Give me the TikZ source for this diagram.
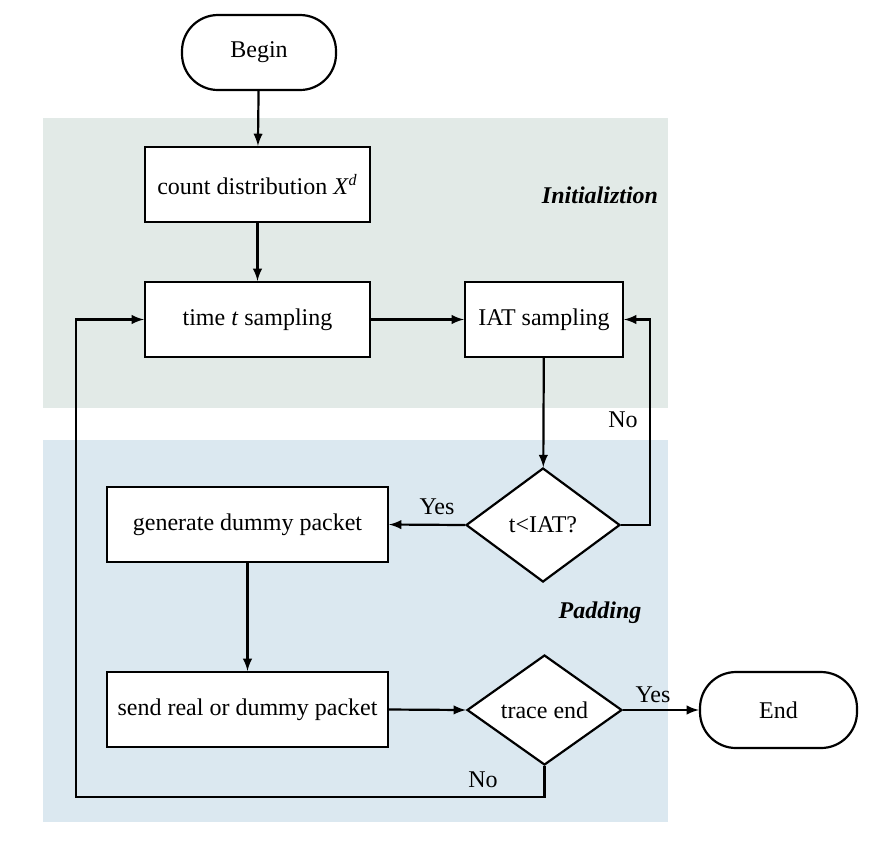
\documentclass[tikz,border=0pt]{standalone}
\usepackage{fontspec}
\setmainfont{Liberation Serif}
\usepackage{tikz}
\usetikzlibrary{arrows,backgrounds,calc,shapes.geometric}
\definecolor{initbg}{RGB}{226,234,231}
\definecolor{padbg}{RGB}{219,232,240}

\begin{document}
\begin{tikzpicture}[x=0.5pt,y=-0.5pt,
  every node/.style={font=\fontsize{12}{14}\selectfont},
  box/.style={draw,fill=white,line width=1.1pt,minimum height=37.5pt,inner sep=2pt},
  term/.style={box,rounded corners=18pt},
  cond/.style={draw,fill=white,line width=1.1pt,diamond,inner sep=0pt},
  arr/.style={-latex,line width=1.1pt},
  lbl/.style={font=\fontsize{12}{14}\selectfont\bfseries\itshape}]
\useasboundingbox (0,0) rectangle (872,843);
\fill[initbg] (43,118) rectangle (668,408);
\fill[padbg] (43,440) rectangle (668,822);
\node[lbl] (initlbl) at (600,195) {Initializtion};
\node[lbl] (padlbl) at (600,613) {Padding};

\node[term,minimum width=77pt] (begin) at (259,52.5) {Begin};
\node[box,minimum width=112.5pt] (count) at (257.5,184.5) {count distribution \textit{X}\textsuperscript{\textit{d}}};
\node[box,minimum width=112.5pt] (time) at (257.5,319.5) {time \textit{t} sampling};
\node[box,minimum width=79pt] (iat) at (544,319.5) {IAT sampling};
\node[cond,minimum width=77pt,minimum height=57pt] (less) at (543,525) {t<IAT?};
\node[box,minimum width=140.5pt] (dummy) at (247.5,524.5) {generate dummy packet};
\node[box,minimum width=140.5pt] (send) at (247.5,709.5) {send real or dummy packet};
\node[cond,minimum width=77.5pt,minimum height=55pt] (tend) at (544.5,710) {trace end};
\node[term,minimum width=78.5pt,minimum height=38pt] (end) at (778.5,710) {End};

\coordinate (loopr) at (650,525);
\coordinate (loopl) at (76,797);

\draw[arr] (begin) -- (count);
\draw[arr] (count) -- (time);
\draw[arr] (time) -- (iat);
\draw[arr] (iat) -- (less);
\draw[arr] (less.east) -- (loopr) |- (iat.east);
\draw[arr] (less.west) -- (dummy.east);
\draw[arr] (dummy) -- (send);
\draw[arr] (send.east) -- (tend.west);
\draw[arr] (tend.east) -- (end.west);
\draw[arr] (tend.south) |- (loopl) |- (time.west);

\node (no1) at (623,420) {No};
\node (yes1) at (437,507) {Yes};
\node (yes2) at (653,695) {Yes};
\node (no2) at (483,780) {No};
\end{tikzpicture}
\end{document}
